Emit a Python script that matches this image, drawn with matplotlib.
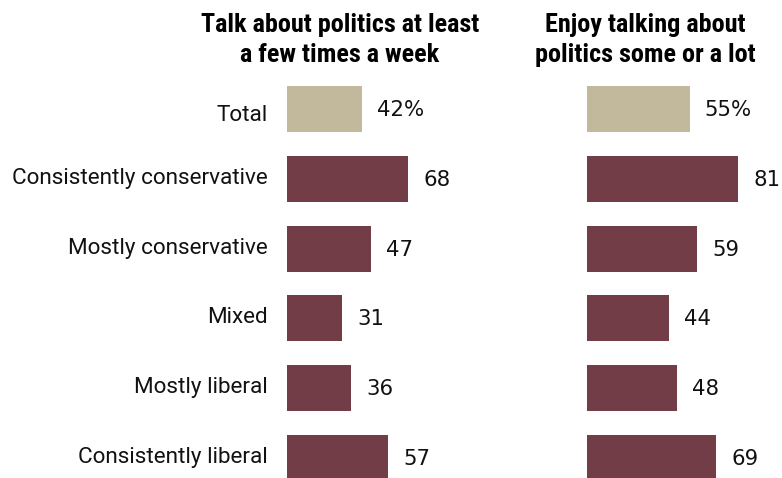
import os
import matplotlib
matplotlib.use('Agg')
import matplotlib.pyplot as plt
from matplotlib import font_manager
from matplotlib.font_manager import FontProperties

categories = ['Total', 'Consistently conservative', 'Mostly conservative',
              'Mixed', 'Mostly liberal', 'Consistently liberal']
talk_often = [42, 68, 47, 31, 36, 57]
enjoy_talking = [55, 81, 59, 44, 48, 69]
value_labels_left = ['42%', '68', '47', '31', '36', '57']
value_labels_right = ['55%', '81', '59', '44', '48', '69']
titles = [['Talk about politics at least', 'a few times a week'],
          ['Enjoy talking about', 'politics some or a lot']]

TOTAL_COLOR = '#c2b99c'
BAR_COLOR = '#733d47'
TEXT_COLOR = '#111111'


def find_font(families, weight):
    # static font files only; variable fonts come out at their default weight
    for fam in families:
        for f in font_manager.fontManager.ttflist:
            if (f.name == fam and f.weight == weight and f.style == 'normal'
                    and '[' not in os.path.basename(f.fname)):
                return FontProperties(fname=f.fname)
    return FontProperties(family='DejaVu Sans', weight=weight)


title_fp = find_font(['Roboto Condensed', 'Fira Sans Condensed',
                      'Asap Condensed', 'Archivo Narrow'], 700)
label_fp = find_font(['Libre Franklin', 'Archivo', 'Roboto'], 400)

W, H = 782, 478
fig = plt.figure(figsize=(W / 100, H / 100), dpi=100)
renderer = fig.canvas.get_renderer()


def fit_size(text, fp, target_px, start=15):
    t = fig.text(0, 0, text, fontproperties=fp, fontsize=start)
    w = t.get_window_extent(renderer).width
    t.remove()
    return start * target_px / w


title_size = fit_size(titles[0][0], title_fp, 279)
label_size = fit_size('Consistently conservative', label_fp, 256)
label_cap_px = 0.711 * label_size * 100 / 72

ROW_PX = 69.8
# row centres in pixels: first at 109, then every ROW_PX
row_top = -109 / ROW_PX
row_bot = (H - 109) / ROW_PX


def add_panel(x0_px, px_per_unit, values, labels, title, title_x):
    width_px = 195
    ax = fig.add_axes([x0_px / W, 0, width_px / W, 1])
    ax.set_xlim(0, width_px / px_per_unit)
    ax.set_ylim(row_bot, row_top)
    colors = [TOTAL_COLOR] + [BAR_COLOR] * (len(values) - 1)
    ax.barh(range(len(values)), values, height=0.66, color=colors)
    for i, (v, lab) in enumerate(zip(values, labels)):
        ax.text(v + 15 / px_per_unit, i + 1 / ROW_PX, lab, va='center',
                ha='left', fontsize=15.3, family='DejaVu Sans',
                color=TEXT_COLOR)
    ax.axis('off')
    for line, base_px in zip(title, (32, 62)):
        fig.text(title_x / W, 1 - base_px / H, line, ha='center',
                 va='baseline', fontproperties=title_fp, fontsize=title_size,
                 color='black')
    return ax


ax1 = add_panel(287, 1.78, talk_often, value_labels_left, titles[0], 340)
ax2 = add_panel(587, 1.87, enjoy_talking, value_labels_right, titles[1], 645)

for i, cat in enumerate(categories):
    # first row sits a little low, the rest a little high
    nudge = 4 if i == 0 else -3
    base = i + (label_cap_px / 2 + nudge) / ROW_PX
    ax1.text(-19 / 1.78, base, cat, ha='right', va='baseline',
             fontproperties=label_fp, fontsize=label_size, color=TEXT_COLOR)

fig.savefig('out.png', dpi=100)
